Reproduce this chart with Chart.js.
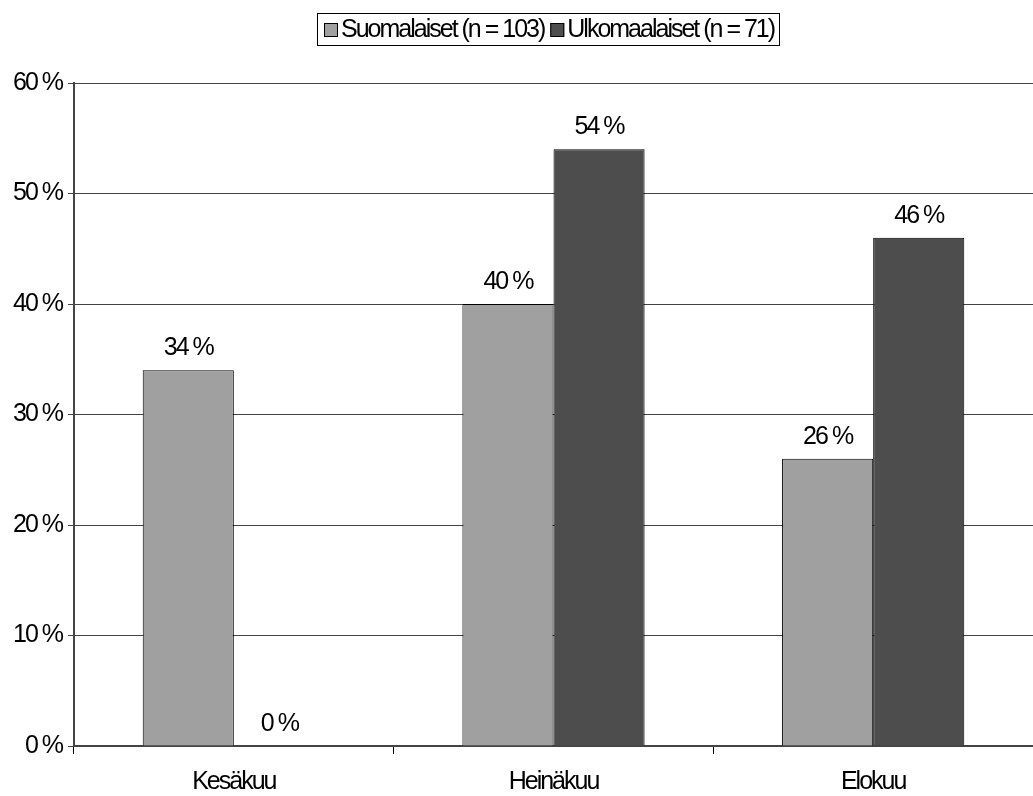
<!DOCTYPE html>
<html>
<head>
<meta charset="utf-8">
<script src="https://cdn.jsdelivr.net/npm/chart.js@4.4.1/dist/chart.umd.min.js"></script>
<style>
  html, body { margin: 0; padding: 0; background: #ffffff; }
  #wrap { width: 1033px; height: 796px; position: relative; }
</style>
</head>
<body>
<div id="wrap"><canvas id="c" width="1033" height="796"></canvas></div>
<script>
// Months shown on the x axis
const months = ['Kesäkuu', 'Heinäkuu', 'Elokuu'];
// Share of respondents per month (%)
const finnish = [34, 40, 26];
const foreign = [0, 54, 46];
// Series names
const seriesNames = ['Suomalaiset (n = 103)', 'Ulkomaalaiset (n = 71)'];
// Y axis tick values (%)
const yTicks = [0, 10, 20, 30, 40, 50, 60];

const FONT = '"Liberation Sans", Arial, sans-serif';
const FSIZE = 25;
const TRACK = '-2px';
const fillColors = ['#a0a0a0', '#4d4d4d'];

// Tight tracking for every text drawn on the canvas
const tracking = {
  id: 'tracking',
  beforeInit(chart) { if ('letterSpacing' in chart.ctx) chart.ctx.letterSpacing = TRACK; },
  beforeDraw(chart) { if ('letterSpacing' in chart.ctx) chart.ctx.letterSpacing = TRACK; }
};

// Value labels above each bar
const valueLabels = {
  id: 'valueLabels',
  afterDatasetsDraw(chart) {
    const ctx = chart.ctx;
    ctx.save();
    ctx.font = FSIZE + 'px ' + FONT;
    ctx.fillStyle = '#000';
    ctx.textAlign = 'center';
    ctx.textBaseline = 'middle';
    chart.data.datasets.forEach((ds, i) => {
      chart.getDatasetMeta(i).data.forEach((bar, j) => {
        ctx.fillText(ds.data[j] + ' %', bar.x, bar.y - 22);
      });
    });
    ctx.restore();
  }
};

// Boxed legend centred at the top
const boxLegend = {
  id: 'boxLegend',
  afterDraw(chart) {
    const ctx = chart.ctx;
    ctx.save();
    ctx.font = FSIZE + 'px ' + FONT;
    ctx.textBaseline = 'middle';
    const sw = 14, gapSw = 3, gapItem = 6, padX = 6;
    const items = chart.data.datasets.map(ds => ({
      label: ds.label, color: ds.backgroundColor, w: ctx.measureText(ds.label).width
    }));
    let total = padX * 2;
    items.forEach((it, k) => { total += sw + gapSw + it.w + (k ? gapItem : 0); });
    const top = 13, h = 32;
    let x = Math.round(chart.width / 2 - total / 2) + 0.5 + 32;
    ctx.strokeStyle = '#000';
    ctx.lineWidth = 1;
    ctx.strokeRect(x, top + 0.5, Math.round(total), h);
    let cx = Math.round(x + padX);
    const cy = top + h / 2 + 0.5;
    items.forEach((it, k) => {
      if (k) cx += gapItem;
      ctx.fillStyle = it.color;
      ctx.fillRect(cx, Math.round(cy - sw / 2), sw, sw);
      ctx.strokeRect(cx + 0.5, Math.round(cy - sw / 2) + 0.5, sw - 1, sw - 1);
      cx += sw + gapSw;
      ctx.fillStyle = '#000';
      ctx.textAlign = 'left';
      ctx.fillText(it.label, cx, cy + 1);
      cx += it.w;
    });
    ctx.restore();
  }
};

new Chart(document.getElementById('c'), {
  type: 'bar',
  data: {
    labels: months,
    datasets: [
      { label: seriesNames[0], data: finnish, backgroundColor: fillColors[0], borderColor: '#000', borderWidth: 1 },
      { label: seriesNames[1], data: foreign, backgroundColor: fillColors[1], borderColor: '#000', borderWidth: 1 }
    ]
  },
  options: {
    responsive: false,
    animation: false,
    devicePixelRatio: 1,
    layout: { padding: { top: 83, right: 0, left: 0, bottom: 0 } },
    plugins: { legend: { display: false }, tooltip: { enabled: false }, title: { display: false } },
    datasets: { bar: { categoryPercentage: 0.57, barPercentage: 1 } },
    scales: {
      x: {
        afterFit(s) { s.height = 50; },
        grid: { display: true, offset: true, drawOnChartArea: false, color: '#000', tickLength: 8 },
        border: { color: '#444', width: 2 },
        ticks: { color: '#000', font: { family: FONT, size: FSIZE }, padding: 13 }
      },
      y: {
        min: 0, max: 60,
        afterFit(s) { s.width = 74; },
        afterBuildTicks(s) { s.ticks = yTicks.map(v => ({ value: v })); },
        grid: { color: '#444', tickLength: 6 },
        border: { color: '#444', width: 2 },
        ticks: { color: '#000', font: { family: FONT, size: FSIZE }, padding: 6, callback: v => v + ' %' }
      }
    }
  },
  plugins: [tracking, valueLabels, boxLegend]
});
</script>
</body>
</html>
